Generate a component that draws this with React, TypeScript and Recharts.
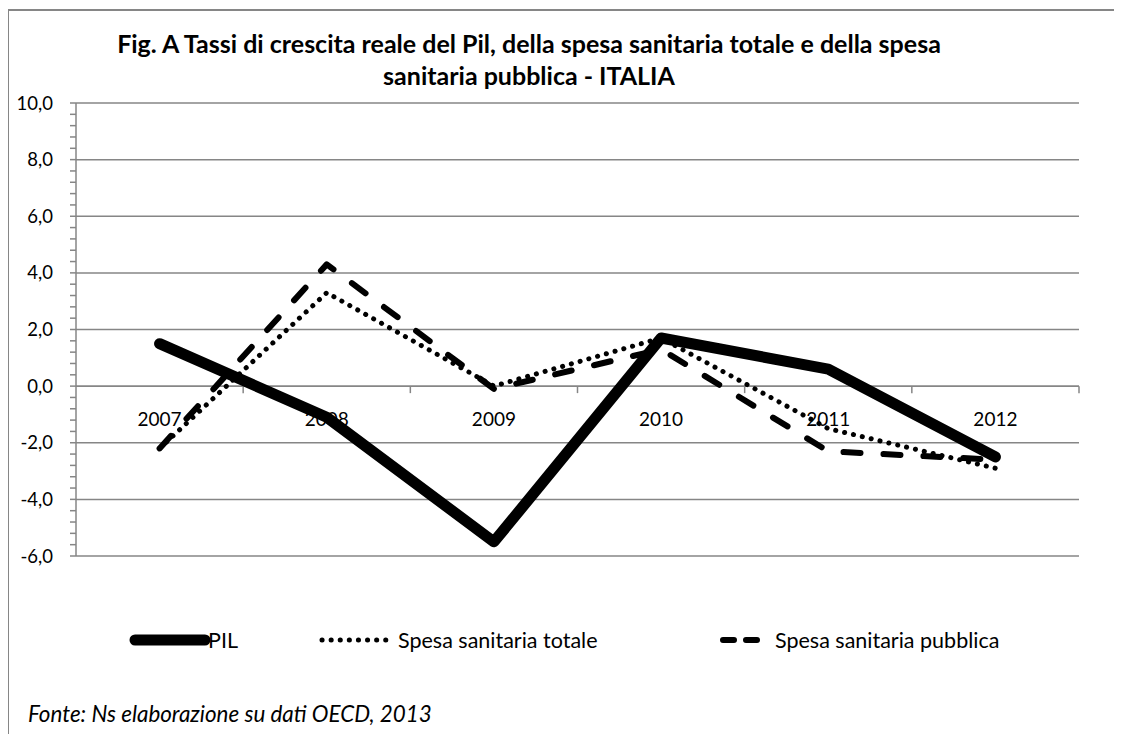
import React from 'react';
import { LineChart, Line, XAxis, YAxis, CartesianGrid, ReferenceLine } from 'recharts';

const years = ['2007', '2008', '2009', '2010', '2011', '2012'];
const pil = [1.5, -1.1, -5.5, 1.7, 0.6, -2.5];
const spesaTotale = [-2.2, 3.3, 0.0, 1.7, -1.5, -2.9];
const spesaPubblica = [-2.2, 4.3, -0.1, 1.3, -2.3, -2.6];
const majorTicks = [-6, -4, -2, 0, 2, 4, 6, 8, 10];

const titleLines = [
  'Fig. A Tassi di crescita reale del Pil, della spesa sanitaria totale e della spesa',
  'sanitaria pubblica - ITALIA',
];
const sourceNote = 'Fonte: Ns elaborazione su dati OECD, 2013';

const data = years.map((year, i) => ({
  year,
  pil: pil[i],
  totale: spesaTotale[i],
  pubblica: spesaPubblica[i],
}));

// minor ticks every 0.4, labels only on the majors
const allTicks = Array.from({ length: 41 }, (_, i) => Math.round((-6 + i * 0.4) * 10) / 10);

const FONT = 'Lato, "Open Sans", sans-serif';
const GRID = '#868686';

const fmt = (v: number) =>
  majorTicks.includes(v) ? v.toFixed(1).replace('.', ',') : '';

// x axis drawn where y = 0, with ticks between categories
const ZeroAxis = (p: any) => {
  const { x1, x2, y1 } = p;
  const band = (x2 - x1) / years.length;
  return (
    <g>
      <line x1={x1} x2={x2} y1={y1} y2={y1} stroke={GRID} strokeWidth={1.5} />
      {years.map((_, i) => (
        <line key={'t' + i} x1={x1 + band * (i + 1)} x2={x1 + band * (i + 1)} y1={y1} y2={y1 + 7} stroke={GRID} strokeWidth={1.5} />
      ))}
      {years.map((y, i) => (
        <text key={y} x={x1 + band * (i + 0.5)} y={y1 + 32} textAnchor="middle" dominantBaseline="central"
          fontFamily={FONT} fontSize={19} fill="#000">{y}</text>
      ))}
    </g>
  );
};

const series = [
  { key: 'pubblica', name: 'Spesa sanitaria pubblica', width: 6, dash: '17 23' },
  { key: 'totale', name: 'Spesa sanitaria totale', width: 5, dash: '0.1 9' },
  { key: 'pil', name: 'PIL', width: 11, dash: undefined },
];

const legendItems = [
  { name: 'PIL', left: 135, len: 70, width: 11, dash: undefined, gap: 3 },
  { name: 'Spesa sanitaria totale', left: 322, len: 66, width: 5, dash: '0.1 9', gap: 10 },
  { name: 'Spesa sanitaria pubblica', left: 723, len: 34, width: 6, dash: '11 12', gap: 18 },
];

export default function App() {
  return (
    <div style={{ position: 'relative', width: 1122, height: 742, margin: -8, overflow: 'hidden', background: '#fff' }}>
      <div style={{ position: 'absolute', left: 7, top: 9, width: 1200, height: 800, border: `2px solid ${GRID}` }} />
      <div style={{ position: 'absolute', left: 0, top: 27, width: 1058, textAlign: 'center', fontFamily: FONT, fontWeight: 700, fontSize: 25, lineHeight: '32px', whiteSpace: 'nowrap' }}>
        {titleLines.map((t) => <div key={t}>{t}</div>)}
      </div>
      <div style={{ position: 'absolute', left: 0, top: 0 }}>
        <LineChart width={1122} height={742} data={data} margin={{ top: 103, right: 43, bottom: 186, left: 0 }}>
          <CartesianGrid horizontal vertical={false} horizontalValues={majorTicks} stroke={GRID} strokeWidth={1.5} />
          <XAxis dataKey="year" scale="band" hide />
          <YAxis
            width={76}
            domain={[-6, 10]}
            ticks={allTicks}
            interval={0}
            tickFormatter={fmt}
            tickSize={6}
            tickMargin={17}
            axisLine={{ stroke: GRID, strokeWidth: 1.5 }}
            tickLine={{ stroke: GRID, strokeWidth: 1.5 }}
            tick={{ fill: '#000', fontSize: 18.5, fontFamily: FONT }}
          />
          <ReferenceLine y={0} shape={ZeroAxis} />
          {series.map((s) => (
            <Line
              key={s.key}
              type="linear"
              dataKey={s.key}
              name={s.name}
              stroke="#000"
              strokeWidth={s.width}
              strokeDasharray={s.dash}
              strokeLinecap="round"
              strokeLinejoin="round"
              dot={false}
              activeDot={false}
              isAnimationActive={false}
            />
          ))}
        </LineChart>
      </div>
      <svg style={{ position: 'absolute', left: 0, top: 620 }} width={1122} height={40}>
        {legendItems.map((it) => (
          <g key={it.name}>
            <line x1={it.left} x2={it.left + it.len} y1={20} y2={20} stroke="#000" strokeWidth={it.width}
              strokeDasharray={it.dash} strokeLinecap="round" />
            <text x={it.left + it.len + it.gap} y={20} dominantBaseline="central"
              fontFamily={FONT} fontSize={21.5} fill="#000">{it.name}</text>
          </g>
        ))}
      </svg>
      <div style={{ position: 'absolute', left: 28, top: 700, fontFamily: FONT, fontStyle: 'italic', fontSize: 22.4, whiteSpace: 'nowrap' }}>
        {sourceNote}
      </div>
    </div>
  );
}
